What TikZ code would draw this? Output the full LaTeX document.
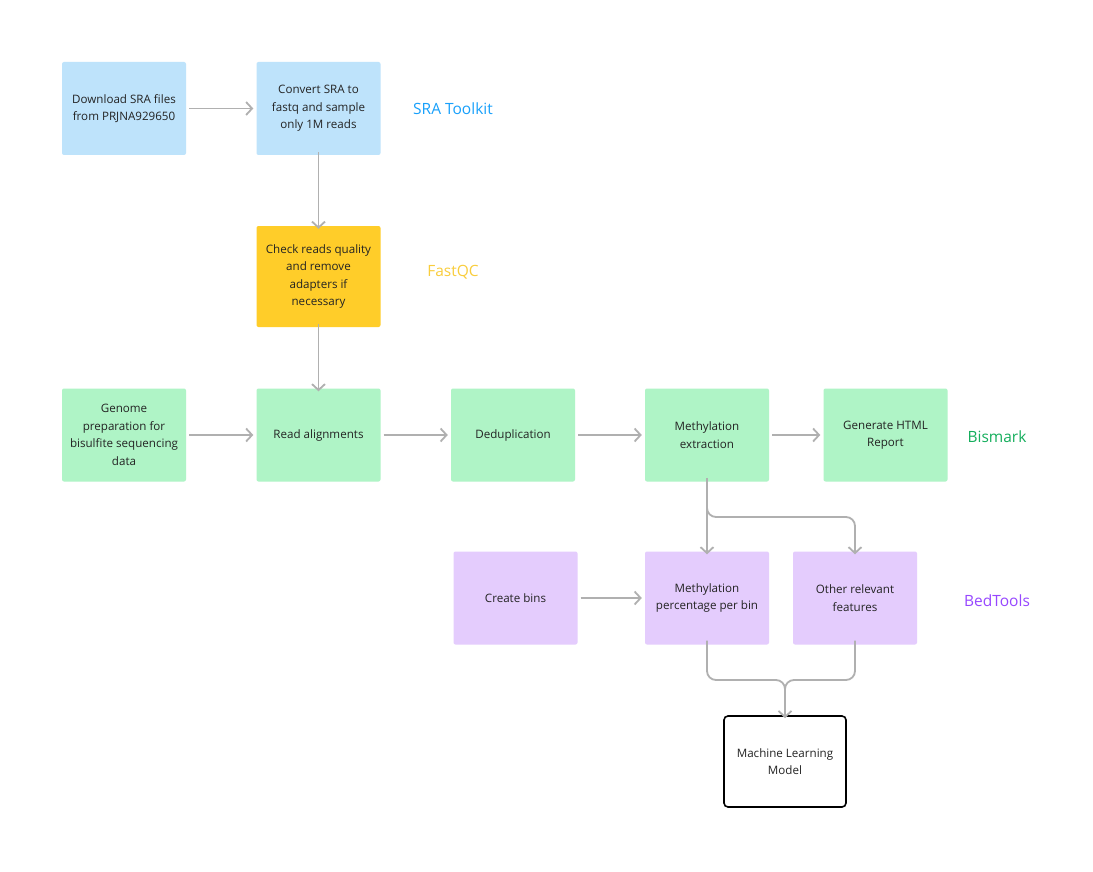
\documentclass[tikz,border=0pt]{standalone}
\usepackage{fontspec}
\setmainfont{Open Sans}
\usetikzlibrary{arrows.meta,positioning}
\definecolor{bluebox}{RGB}{190,227,251}
\definecolor{yellowbox}{RGB}{255,205,41}
\definecolor{greenbox}{RGB}{175,244,198}
\definecolor{purplebox}{RGB}{228,204,253}
\definecolor{bluelab}{RGB}{24,160,251}
\definecolor{yellowlab}{RGB}{249,205,60}
\definecolor{greenlab}{RGB}{20,174,92}
\definecolor{purplelab}{RGB}{151,71,255}
\definecolor{arrowgray}{RGB}{176,176,176}
\definecolor{txt}{RGB}{35,35,35}
\begin{document}
\begin{tikzpicture}[x=1pt,y=-1pt,
  box/.style={rounded corners=2pt, minimum width=124pt, inner sep=0pt, align=center, font=\fontsize{11.6}{17.5}\selectfont, text=txt},
  bluestep/.style={box, fill=bluebox, minimum height=93pt},
  yellowstep/.style={box, fill=yellowbox, minimum height=101pt},
  greenstep/.style={box, fill=greenbox, minimum height=93pt},
  purplestep/.style={box, fill=purplebox, minimum height=93pt},
  mlstep/.style={box, rounded corners=4pt, fill=white, draw=black, line width=1.6pt, minimum height=91pt, minimum width=122pt},
  toollab/.style={font=\fontsize{15.5}{17}\selectfont},
  conn/.style={draw=arrowgray, line width=1.8pt, -{Straight Barb[length=6pt,width=13pt]}},
  plain/.style={draw=arrowgray, line width=1.8pt}
]
\useasboundingbox (0,0) rectangle (1093,872);
\fill[white] (0,0) rectangle (1093,872);

\node[bluestep] (dl) at (124,108.5) {Download SRA files\\from PRJNA929650};
\node[bluestep] (cv) at (318.5,108.5) {Convert SRA to\\fastq and sample\\only 1M reads};
\node[toollab, text=bluelab] (sra) at (453,109) {SRA Toolkit};

\node[yellowstep] (qc) at (318.5,276.5) {Check reads quality\\and remove\\adapters if\\necessary};
\node[toollab, text=yellowlab] (fqc) at (453,272) {FastQC};

\node[greenstep] (gp) at (124,435) {Genome\\preparation for\\bisulfite sequencing\\data};
\node[greenstep] (ra) at (318.5,435) {Read alignments};
\node[greenstep] (dd) at (513,435) {Deduplication};
\node[greenstep] (me) at (707,435) {Methylation\\extraction};
\node[greenstep] (hr) at (885.5,435) {Generate HTML\\Report};
\node[toollab, text=greenlab] (bis) at (997,437) {Bismark};

\node[purplestep] (cb) at (515.5,598) {Create bins};
\node[purplestep] (mp) at (707,598) {Methylation\\percentage per bin};
\node[purplestep] (of) at (855,598) {Other relevant\\features};
\node[toollab, text=purplelab] (bt) at (997,601) {BedTools};

\node[mlstep] (ml) at (785,761.5) {Machine Learning\\Model};

\path[conn] (dl.east) ++(3,0) -- ([xshift=-3pt]cv.west);
\path[conn] ([yshift=3pt]cv.south) -- ([yshift=-3pt]qc.north);
\path[conn] ([yshift=3pt]qc.south) -- ([yshift=-3pt]ra.north);
\path[conn] ([xshift=3pt]gp.east) -- ([xshift=-3pt]ra.west);
\path[conn] ([xshift=3pt]ra.east) -- ([xshift=-3pt]dd.west);
\path[conn] ([xshift=3pt]dd.east) -- ([xshift=-3pt]me.west);
\path[conn] ([xshift=3pt]me.east) -- ([xshift=-3pt]hr.west);
\path[conn] ([xshift=3pt]cb.east) -- ([xshift=-3pt]mp.west);

\coordinate (mebot) at ([yshift=4pt]me.south);
\path[conn] (mebot) -- ([yshift=-3pt]mp.north);
\path[conn, rounded corners=9pt] (707,505) |- (855,517) -- ([yshift=-3pt]of.north);

\coordinate (mlin) at ([yshift=-3pt]ml.north);
\path[plain, rounded corners=9pt] ([yshift=4pt]mp.south) |- (785,680) -- (785,690);
\path[plain, rounded corners=9pt] ([yshift=4pt]of.south) |- (785,680) -- (785,690);
\path[conn] (785,688) -- (mlin);
\end{tikzpicture}
\end{document}
